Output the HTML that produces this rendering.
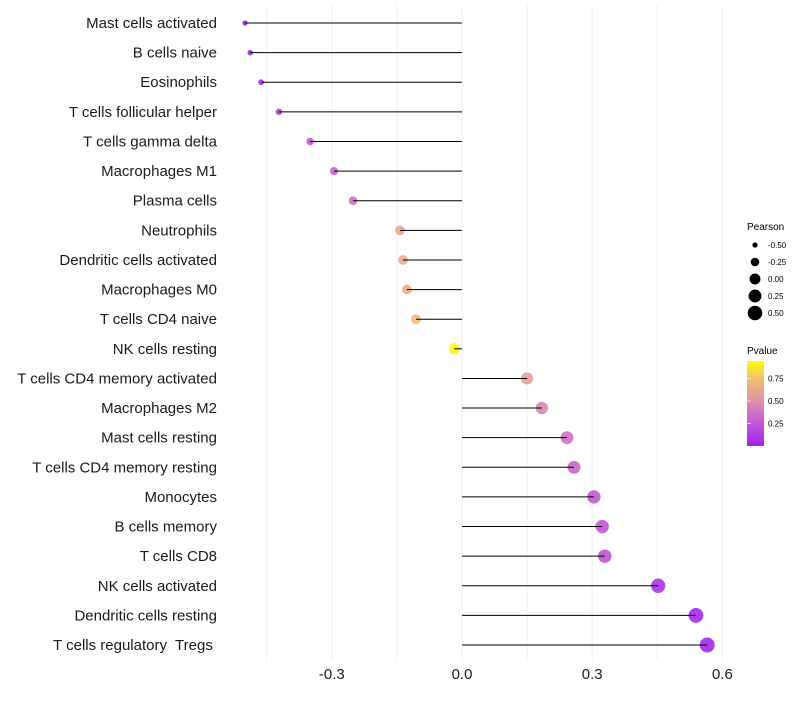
<!DOCTYPE html>
<html><head><meta charset="utf-8"><style>
body{margin:0;background:#fff;font-family:"Liberation Sans",sans-serif}
</style></head><body>
<svg id="c" width="800" height="700" xmlns="http://www.w3.org/2000/svg">
<defs><linearGradient id="pg" x1="0" y1="1" x2="0" y2="0">
<stop offset="0" stop-color="#a020f0"/><stop offset="0.35" stop-color="#cc6ac8"/><stop offset="0.6" stop-color="#e4a09a"/><stop offset="0.8" stop-color="#f2c070"/><stop offset="1" stop-color="#ffff00"/></linearGradient></defs>
<g id="grid"></g><g id="dots"></g><g id="marks"></g><g id="ylab"></g><g id="xlab"></g>
<g font-size="10">
<text x="747" y="230" font-size="10">Pearson</text>
<g id="sizeleg"></g></g>
<g>
<text x="747" y="354" font-size="10">Pvalue</text>
<rect x="747" y="361" width="17" height="85" fill="url(#pg)"/>
<g id="pleg"></g></g>
</svg>
<script>
const categories=["Mast cells activated","B cells naive","Eosinophils","T cells follicular helper","T cells gamma delta","Macrophages M1","Plasma cells","Neutrophils","Dendritic cells activated","Macrophages M0","T cells CD4 naive","NK cells resting","T cells CD4 memory activated","Macrophages M2","Mast cells resting","T cells CD4 memory resting","Monocytes","B cells memory","T cells CD8","NK cells activated","Dendritic cells resting","T cells regulatory  Tregs "];
const pearson=[-0.5,-0.488,-0.463,-0.422,-0.35,-0.295,-0.251,-0.143,-0.136,-0.127,-0.106,-0.018,0.15,0.184,0.242,0.258,0.304,0.323,0.329,0.452,0.539,0.565];
const pvalue=[0.02,0.04,0.1,0.18,0.27,0.3,0.38,0.66,0.66,0.7,0.77,0.97,0.6,0.48,0.38,0.33,0.28,0.25,0.24,0.09,0.04,0.03];
const xTicks=[-0.3,0,0.3,0.6];
const xTickLabels=["-0.3","0.0","0.3","0.6"];
const sizeBreaks=[-0.5,-0.25,0,0.25,0.5];
const pBreaks=[0.25,0.5,0.75];
const NS="http://www.w3.org/2000/svg";
const X=v=>462+v*434;
const Y=i=>23+i*29.62;
const R=v=>Math.sqrt(Math.max(2.5,30+46*v));
const stops=[[0,[160,32,240]],[0.35,[204,106,200]],[0.6,[228,160,154]],[0.8,[242,192,112]],[1,[255,255,0]]];
function col(p){for(let k=1;k<stops.length;k++){if(p<=stops[k][0]){const a=stops[k-1],b=stops[k],t=(p-a[0])/(b[0]-a[0]);return "rgb("+a[1].map((c,j)=>Math.round(c+(b[1][j]-c)*t)).join(",")+")";}}return "rgb(255,255,0)";}
function mk(tag,at,par){const e=document.createElementNS(NS,tag);for(const k in at)e.setAttribute(k,at[k]);document.getElementById(par).appendChild(e);return e;}
[-0.45,-0.3,-0.15,0,0.15,0.3,0.45,0.6].forEach(v=>{const l=mk("line",{x1:X(v),x2:X(v),y1:5,y2:660,stroke:"#f0f0f0","stroke-width":1},"grid");

});
categories.forEach((c,i)=>{
const d=mk("circle",{cx:X(pearson[i]),cy:Y(i),r:R(pearson[i]),fill:col(pvalue[i]),"fill-opacity":0.9},"dots");


const l=mk("line",{x1:X(0),x2:X(pearson[i]),y1:Y(i),y2:Y(i),stroke:"#000","stroke-width":1},"marks");


const t=mk("text",{x:217,y:Y(i)+5,"text-anchor":"end","font-size":15,fill:"#1a1a1a"},"ylab");
t.setAttributeNS("http://www.w3.org/XML/1998/namespace","xml:space","preserve");
t.style.whiteSpace="pre";
t.textContent=c;


});
xTicks.forEach((v,i)=>{const t=mk("text",{x:X(v),y:679,"text-anchor":"middle","font-size":15,fill:"#1a1a1a"},"xlab");t.textContent=xTickLabels[i];

});
sizeBreaks.forEach((v,i)=>{const y=245+i*17;
const d=mk("circle",{cx:755,cy:y,r:R(v),fill:"#000"},"sizeleg");


const t=mk("text",{x:768,y:y+3,"font-size":8},"sizeleg");t.textContent=v.toFixed(2);

});
pBreaks.forEach(v=>{const y=446-(v-0.0)*90;
const l=mk("line",{x1:747,x2:751,y1:y,y2:y,stroke:"#fff","stroke-width":0.7},"pleg");


const t=mk("text",{x:768,y:y+3,"font-size":8},"pleg");t.textContent=v.toFixed(2);

});
</script>
</body></html>
